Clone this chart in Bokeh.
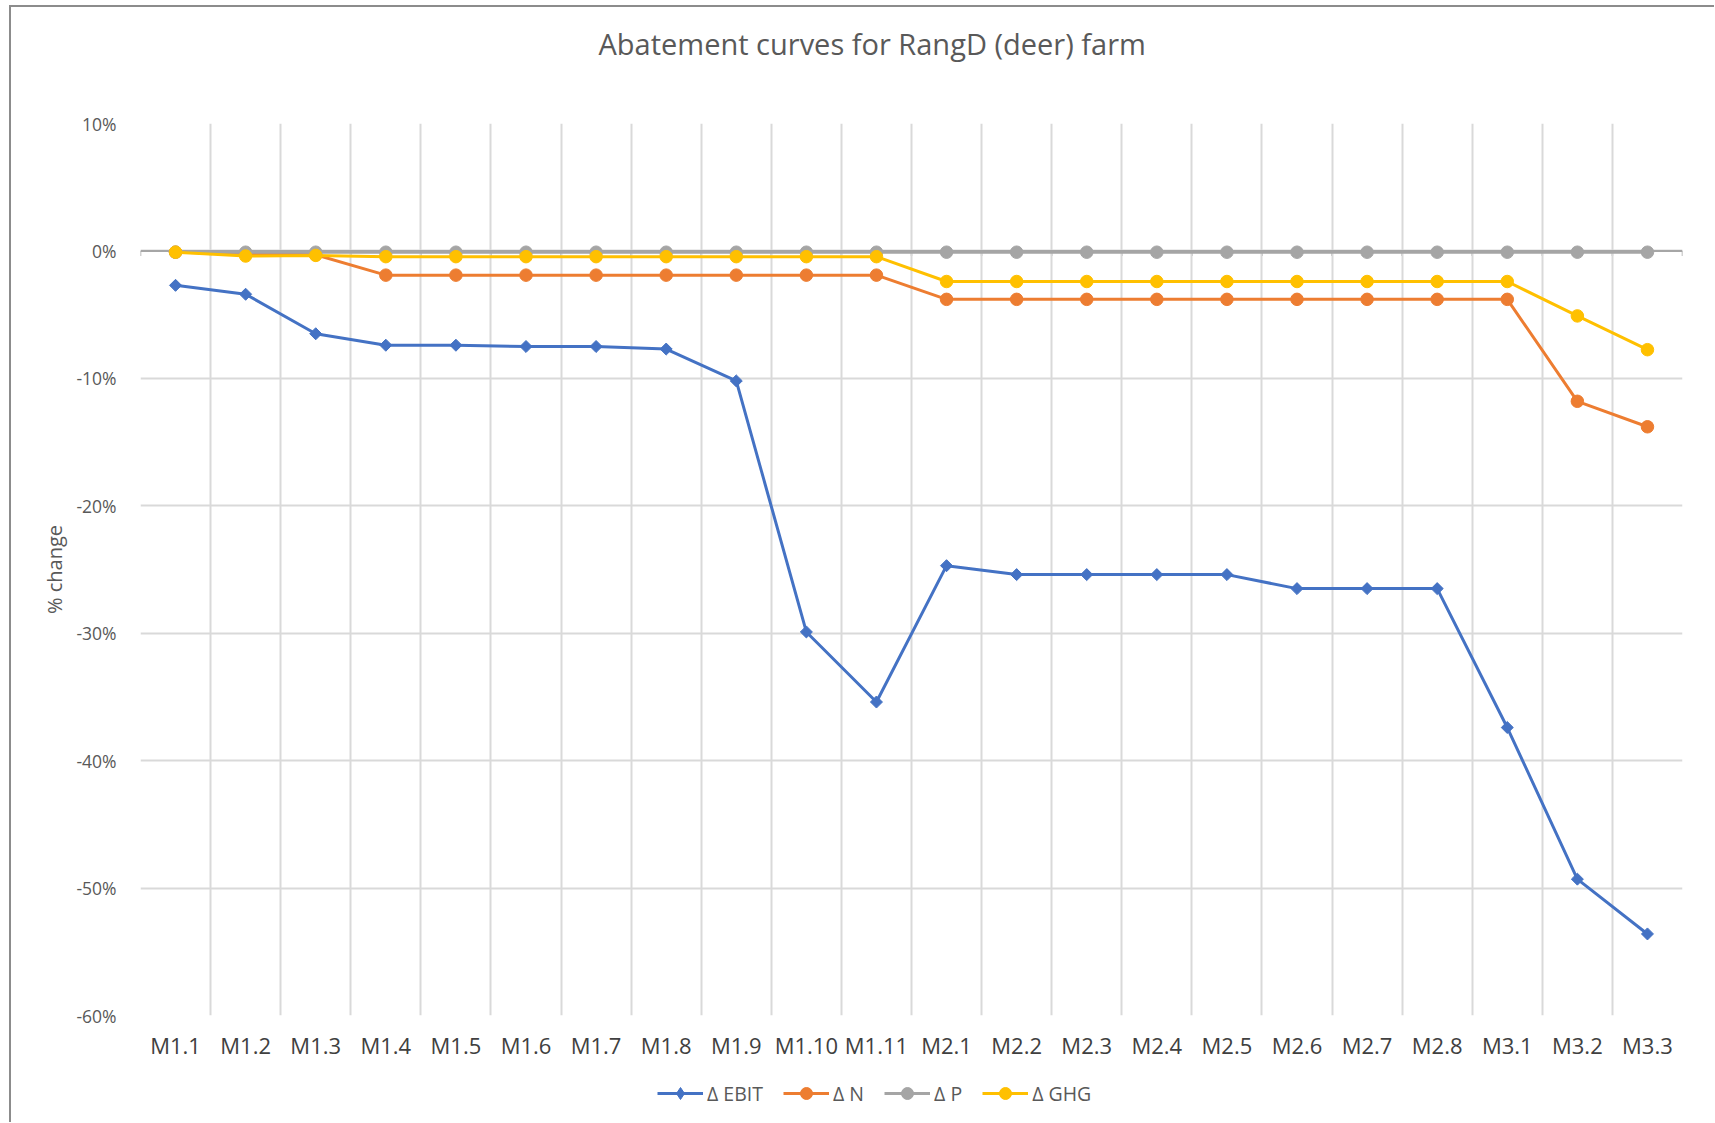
import math
from bokeh.plotting import figure
from bokeh.layouts import column
from bokeh.models import FixedTicker, Span, Legend, LegendItem, Title
from bokeh.embed import file_html
from bokeh.resources import INLINE

# ---------------- data ----------------
categories = ["M1.1", "M1.2", "M1.3", "M1.4", "M1.5", "M1.6", "M1.7", "M1.8", "M1.9",
              "M1.10", "M1.11", "M2.1", "M2.2", "M2.3", "M2.4", "M2.5", "M2.6", "M2.7",
              "M2.8", "M3.1", "M3.2", "M3.3"]

d_ebit = [-2.7, -3.4, -6.5, -7.4, -7.4, -7.5, -7.5, -7.7, -10.2, -29.9, -35.4,
          -24.7, -25.4, -25.4, -25.4, -25.4, -26.5, -26.5, -26.5, -37.4, -49.3, -53.6]
d_n = [-0.1, -0.2, -0.3, -1.9, -1.9, -1.9, -1.9, -1.9, -1.9, -1.9, -1.9,
       -3.8, -3.8, -3.8, -3.8, -3.8, -3.8, -3.8, -3.8, -3.8, -11.8, -13.8]
d_p = [-0.1] * 22
d_ghg = [-0.1, -0.4, -0.35, -0.45, -0.45, -0.45, -0.45, -0.45, -0.45, -0.45, -0.45,
         -2.4, -2.4, -2.4, -2.4, -2.4, -2.4, -2.4, -2.4, -2.4, -5.1, -7.75]

y_ticks = [10, 0, -10, -20, -30, -40, -50, -60]
y_tick_labels = ["10%", "0%", "-10%", "-20%", "-30%", "-40%", "-50%", "-60%"]

series_names = ["Δ EBIT", "Δ N", "Δ P", "Δ GHG"]
colors = ["#4472C4", "#ED7D31", "#A5A5A5", "#FFC000"]
markers = ["square", "circle", "circle", "circle"]
legend_markers = ["diamond", "circle", "circle", "circle"]
marker_sizes = [8.5, 12.5, 12.5, 12.5]
marker_angles = [math.pi / 4, 0, 0, 0]

# ---------------- main figure ----------------
FONT = "Open Sans"
n_cat = len(categories)
xs = [i + 0.5 for i in range(n_cat)]
bounds = list(range(n_cat + 1))

p = figure(frame_width=1542, frame_height=892, x_range=(0, n_cat), y_range=(-60, 10),
           output_backend="svg", toolbar_location=None,
           min_border_left=129, min_border_right=32, min_border_top=116,
           min_border_bottom=52)
p.outline_line_color = None
p.background_fill_color = "white"
p.border_fill_color = "white"

# title (outermost) plus a blank spacer line between it and the plot area
p.title.text = "Abatement curves for RangD (deer) farm"
p.title.align = "left"
p.title.offset = 458
p.title.text_font = FONT
p.title.text_font_size = "29px"
p.title.text_font_style = "normal"
p.title.text_color = "#595959"
p.title.standoff = 10
p.add_layout(Title(text=" ", text_font_size="10px", standoff=43), "above")

# x axis
p.xaxis.ticker = FixedTicker(ticks=xs)
p.xaxis.major_label_overrides = {x: c for x, c in zip(xs, categories)}
p.xaxis.axis_line_color = None
p.xaxis.major_tick_line_color = None
p.xaxis.minor_tick_line_color = None
p.xaxis.major_label_text_font = FONT
p.xaxis.major_label_text_font_size = "22px"
p.xaxis.major_label_text_color = "#404040"
p.xaxis.major_label_standoff = 8

# y axis
p.yaxis.ticker = FixedTicker(ticks=y_ticks)
p.yaxis.major_label_overrides = {t: l for t, l in zip(y_ticks, y_tick_labels)}
p.yaxis.axis_line_color = None
p.yaxis.major_tick_line_color = None
p.yaxis.minor_tick_line_color = None
p.yaxis.major_label_text_font = FONT
p.yaxis.major_label_text_font_size = "17.5px"
p.yaxis.major_label_text_color = "#595959"
p.yaxis.major_label_standoff = 18
p.yaxis.axis_label = "% change"
p.yaxis.axis_label_text_font = FONT
p.yaxis.axis_label_text_font_size = "20px"
p.yaxis.axis_label_text_font_style = "normal"
p.yaxis.axis_label_text_color = "#595959"
p.yaxis.axis_label_standoff = 5

# grids
p.xgrid.ticker = FixedTicker(ticks=bounds)
p.xgrid.grid_line_color = "#D9D9D9"
p.xgrid.grid_line_width = 2
p.ygrid.grid_line_color = "#D9D9D9"
p.ygrid.grid_line_width = 2

# zero axis line with small ticks
zero = Span(location=0, dimension="width", line_color="#A6A6A6", line_width=2, level="underlay")
p.add_layout(zero)
p.segment(x0=bounds, y0=[0] * len(bounds), x1=bounds, y1=[-0.4] * len(bounds),
          line_color="#A6A6A6", line_width=1.5, level="underlay")

# series
all_vals = [d_ebit, d_n, d_p, d_ghg]
for vals, col, mk, ms, ang in zip(all_vals, colors, markers, marker_sizes, marker_angles):
    p.line(xs, vals, line_color=col, line_width=3)
    p.scatter(xs, vals, marker=mk, size=ms, angle=ang, fill_color=col, line_color=col)

# ---------------- legend strip ----------------
leg = figure(width=1703, height=55, x_range=(0, 1), y_range=(0, 1),
             output_backend="svg", toolbar_location=None,
             min_border_left=0, min_border_right=0, min_border_top=0,
             min_border_bottom=0)
leg.axis.visible = False
leg.grid.visible = False
leg.outline_line_color = None
leg.background_fill_color = "white"
leg.border_fill_color = "white"

items = []
for name, col, mk in zip(series_names, colors, legend_markers):
    # one point outside the visible range: only used to style the legend glyph
    lr = leg.line(x=[-5, -4], y=[-5, -5], line_color=col, line_width=3)
    mr = leg.scatter(x=[-5], y=[-5], marker=mk, size=12, fill_color=col, line_color=col)
    items.append(LegendItem(label=name, renderers=[lr, mr]))

legend = Legend(items=items, orientation="horizontal", location=(517, 14))
legend.label_text_font = FONT
legend.label_text_font_size = "19.5px"
legend.label_text_color = "#595959"
legend.glyph_width = 46
legend.glyph_height = 30
legend.label_standoff = 4
legend.spacing = 20
legend.padding = 0
legend.margin = 0
legend.border_line_color = None
legend.background_fill_alpha = 0
leg.add_layout(legend, "center")

layout = column(p, leg, spacing=0)
layout.styles = {"margin-left": "9px", "margin-top": "5px",
                 "border-top": "2px solid #8C8C8C", "border-left": "2px solid #8C8C8C"}

open("out.html", "w").write(file_html(layout, INLINE))
